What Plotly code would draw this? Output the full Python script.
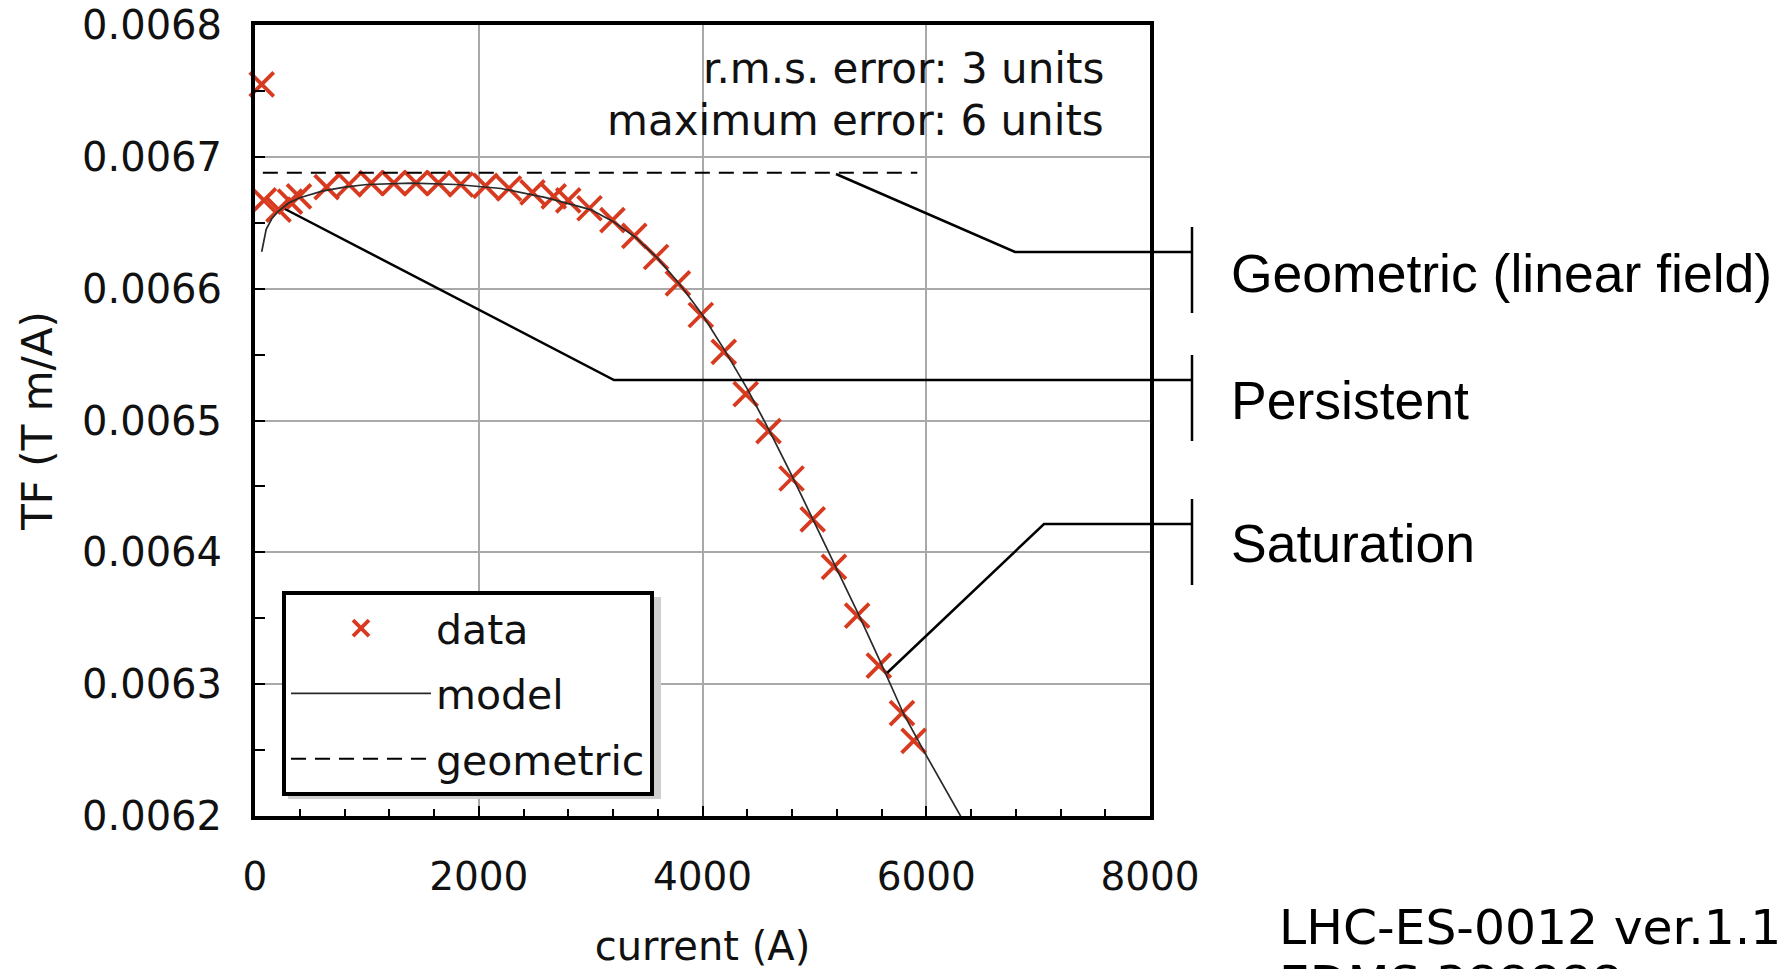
import plotly.graph_objects as go

# ---------------- data ----------------
data_current = [60, 80, 210, 313, 393, 640, 840, 1040, 1240, 1440, 1640, 1840,
                2060, 2270, 2480, 2670, 2800, 2990, 3195, 3390, 3585, 3780, 3985,
                4190, 4386, 4590, 4796, 4985, 5175, 5382, 5576, 5783, 5887]
data_tf = [0.006755, 0.006667, 0.006660, 0.006666, 0.006670, 0.006677, 0.006679,
           0.006680, 0.006680, 0.006680, 0.006680, 0.006679, 0.006678, 0.006676,
           0.006673, 0.006670, 0.006667, 0.006661, 0.006652, 0.006640, 0.006624,
           0.006604, 0.006580, 0.006552, 0.006520, 0.006492, 0.006456, 0.006425,
           0.006389, 0.006352, 0.006314, 0.006278, 0.006257]

model_current = [60, 100, 150, 200, 300, 400, 600, 800, 1000, 1400, 1800, 2200,
                 2600, 3000, 3200, 3400, 3600, 3800, 4000, 4200, 4400, 4600, 4800,
                 5000, 5200, 5400, 5600, 5800, 6000, 6200, 6360]
model_tf = [0.006628, 0.006645, 0.006653, 0.006658, 0.006665, 0.006669, 0.006674,
            0.006677, 0.006679, 0.006680, 0.006679, 0.006676, 0.006669, 0.006660,
            0.006651, 0.006639, 0.006623, 0.006603, 0.006580, 0.006553, 0.006524,
            0.006492, 0.006458, 0.006423, 0.006388, 0.006352, 0.006315, 0.006277,
            0.006246, 0.006216, 0.006192]

geom_current = [70, 5920]
geom_tf = [0.006688, 0.006688]

x_ticks = [0, 2000, 4000, 6000, 8000]
x_labels = ["0", "2000", "4000", "6000", "8000"]
y_ticks = [0.0062, 0.0063, 0.0064, 0.0065, 0.0066, 0.0067, 0.0068]
y_labels = ["0.0062", "0.0063", "0.0064", "0.0065", "0.0066", "0.0067", "0.0068"]

stats_lines = ["r.m.s. error: 3 units", "maximum error: 6 units"]
side_labels = ["Geometric (linear field)", "Persistent", "Saturation"]
doc_lines = ["LHC-ES-0012 ver.1.1", "EDMS 388888"]

# ---------------- layout geometry ----------------
W, H = 1783, 969
L, R, T, B = 255, 1150, 25, 816  # plot area in pixels


def px(x):
    return (x - L) / (R - L)


def py(y):
    return (B - y) / (B - T)


RED = "#d83a20"
TXT = "#111111"

fig = go.Figure()
fig.add_trace(go.Scatter(
    x=data_current, y=data_tf, mode="markers", name="data", legendgroup="a",
    marker=dict(symbol="x-thin", size=24, color=RED, line=dict(color=RED, width=3.8)),
    cliponaxis=False))
fig.add_trace(go.Scatter(
    x=model_current, y=model_tf, mode="lines", name="model", legendgroup="b",
    line=dict(color="#2a2a2a", width=1.7)))
fig.add_trace(go.Scatter(
    x=geom_current, y=geom_tf, mode="lines", name="geometric", legendgroup="c",
    line=dict(color="black", width=2, dash="15px,9px")))

axis_common = dict(
    showgrid=True, gridcolor="#a9a9a9", gridwidth=2,
    showline=True, linecolor="black", linewidth=4, mirror=True,
    ticks="inside", ticklen=10, tickwidth=2, tickcolor="black",
    zeroline=False,
)

fig.update_xaxes(
    range=[0, 8000], tickmode="array", tickvals=x_ticks, ticktext=x_labels,
    minor=dict(tick0=0, dtick=400, ticks="inside", ticklen=7, tickwidth=2,
               tickcolor="black", showgrid=False),
    ticklabelstandoff=23,
    tickfont=dict(family="DejaVu Sans", size=39, color=TXT),
    title=dict(text="current (A)", standoff=42,
               font=dict(family="DejaVu Sans", size=40, color=TXT)),
    **axis_common)
fig.update_yaxes(
    range=[0.0062, 0.0068], tickmode="array", tickvals=y_ticks, ticktext=y_labels,
    minor=dict(tick0=0.0062, dtick=0.00005, ticks="inside", ticklen=10, tickwidth=2,
               tickcolor="black", showgrid=False),
    ticklabelstandoff=21,
    tickfont=dict(family="DejaVu Sans", size=40, color=TXT),
    title=dict(text="TF (T m/A)", standoff=17,
               font=dict(family="DejaVu Sans", size=42, color=TXT)),
    **axis_common)

annotations = []
for txt, yy in zip(stats_lines, [68, 121]):
    annotations.append(dict(text=txt, xref="paper", yref="paper", x=px(1106), y=py(yy),
                            xanchor="right", yanchor="middle", showarrow=False,
                            font=dict(family="DejaVu Sans", size=42, color=TXT)))
for txt, yy in zip(side_labels, [273, 400, 543]):
    annotations.append(dict(text=txt, xref="paper", yref="paper", x=px(1229), y=py(yy),
                            xanchor="left", yanchor="middle", showarrow=False,
                            font=dict(family="Liberation Sans", size=53.5, color="black")))
for txt, yy in zip(doc_lines, [927, 984]):
    annotations.append(dict(text=txt, xref="paper", yref="paper", x=px(1277), y=py(yy),
                            xanchor="left", yanchor="middle", showarrow=False,
                            font=dict(family="DejaVu Sans", size=48.8, color="black")))

shapes = []
leaders = [
    [(836, 174), (1015, 252), (1192, 252)],
    [(285, 209), (614, 380), (1192, 380)],
    [(887, 673), (1044, 524), (1192, 524)],
]
for pts in leaders:
    path = "M " + " L ".join(f"{px(a):.5f},{py(b):.5f}" for a, b in pts)
    shapes.append(dict(type="path", xref="paper", yref="paper", path=path,
                       line=dict(color="black", width=2.5), layer="above"))
    hy = pts[-1][1]
    shapes.append(dict(type="line", xref="paper", yref="paper",
                       x0=px(1192), x1=px(1192), y0=py(hy - 25), y1=py(hy + 61),
                       line=dict(color="black", width=2.5), layer="above"))

# legend drop shadow
shapes.append(dict(type="rect", xref="paper", yref="paper",
                   x0=px(288), x1=px(661), y0=py(597), y1=py(799),
                   fillcolor="#cfcfcf", line=dict(width=0), layer="above"))

fig.update_layout(
    width=W, height=H,
    margin=dict(l=L, r=W - R, t=T, b=H - B, autoexpand=False),
    paper_bgcolor="white", plot_bgcolor="white",
    font=dict(family="DejaVu Sans", size=39, color=TXT),
    showlegend=True,
    legend=dict(x=px(282), y=py(591), xanchor="left", yanchor="top",
                bgcolor="white", bordercolor="black", borderwidth=4,
                font=dict(family="DejaVu Sans", size=41, color=TXT),
                itemwidth=140, tracegroupgap=9, traceorder="grouped"),
    annotations=annotations, shapes=shapes,
)

fig.write_html("out.html")
